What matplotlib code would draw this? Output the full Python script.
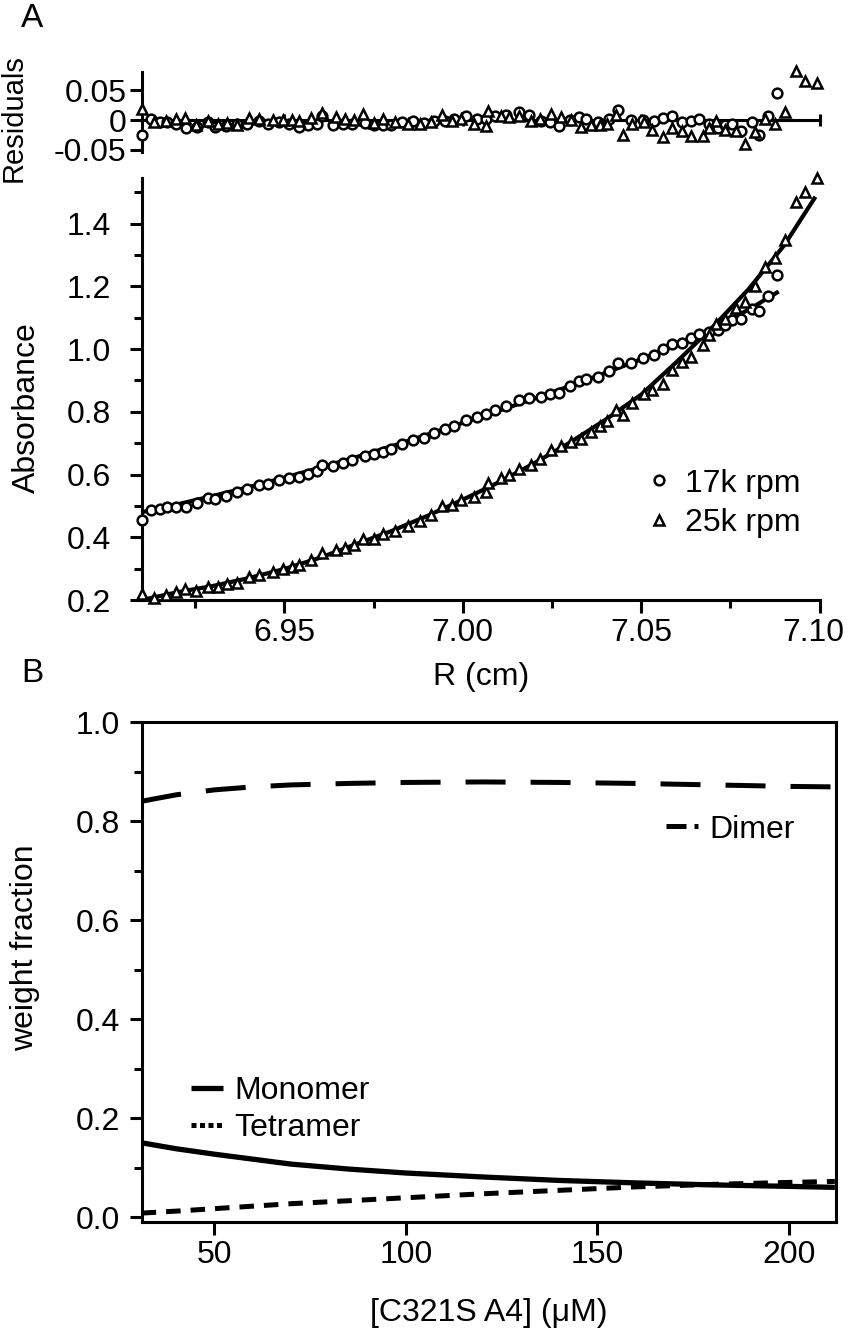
import matplotlib
matplotlib.use('Agg')
import matplotlib.pyplot as plt
import matplotlib.transforms as mtransforms
from matplotlib.lines import Line2D
from matplotlib.ticker import MultipleLocator, FixedLocator

plt.rcParams['font.family'] = ['Liberation Sans', 'DejaVu Sans']

# ---- panel A: 17k rpm (circles) ----
r_17k = [6.9102, 6.9125, 6.9150, 6.9170, 6.9195, 6.9225, 6.9255, 6.9285, 6.9305, 6.9335,
         6.9368, 6.9395, 6.9428, 6.9455, 6.9485, 6.9512, 6.9540, 6.9565, 6.9590, 6.9606,
         6.9635, 6.9663, 6.9690, 6.9726, 6.9750, 6.9775, 6.9800, 6.9830, 6.9860, 6.9890,
         6.9920, 6.9950, 6.9975, 7.0010, 7.0040, 7.0065, 7.0090, 7.0120, 7.0158, 7.0185,
         7.0218, 7.0245, 7.0270, 7.0300, 7.0325, 7.0346, 7.0380, 7.0410, 7.0434, 7.0470,
         7.0505, 7.0535, 7.0560, 7.0587, 7.0615, 7.0640, 7.0663, 7.0690, 7.0715, 7.0735,
         7.0754, 7.0780, 7.0810, 7.0830, 7.0854, 7.0879]
abs_17k = [0.455, 0.487, 0.490, 0.495, 0.497, 0.498, 0.508, 0.525, 0.522, 0.532,
           0.545, 0.553, 0.566, 0.570, 0.582, 0.588, 0.592, 0.603, 0.612, 0.630,
           0.626, 0.637, 0.645, 0.659, 0.664, 0.672, 0.682, 0.697, 0.710, 0.718,
           0.734, 0.744, 0.756, 0.775, 0.782, 0.792, 0.805, 0.820, 0.839, 0.845,
           0.847, 0.857, 0.860, 0.882, 0.898, 0.903, 0.912, 0.930, 0.956, 0.955,
           0.970, 0.982, 0.999, 1.015, 1.020, 1.035, 1.049, 1.055, 1.062, 1.078,
           1.092, 1.095, 1.129, 1.120, 1.168, 1.235]
res_17k = [-0.026, 0.001, -0.003, -0.003, -0.007, -0.014, -0.012, -0.003, -0.011, -0.010,
           -0.006, -0.006, -0.002, -0.007, -0.004, -0.006, -0.011, -0.008, -0.007, 0.006,
           -0.008, -0.006, -0.007, -0.005, -0.009, -0.009, -0.008, -0.004, -0.002, -0.005,
           -0.001, -0.002, 0.001, 0.006, 0.002, 0.002, 0.006, 0.009, 0.013, 0.009,
           -0.002, -0.003, -0.010, 0.000, 0.005, 0.002, -0.004, 0.002, 0.017, 0.000,
           0.000, -0.002, 0.003, 0.006, -0.003, -0.001, 0.001, -0.007, -0.014, -0.009,
           -0.006, -0.018, -0.003, -0.026, 0.006, 0.045]
r_fit_17k = [6.910, 6.920, 6.930, 6.940, 6.950, 6.960, 6.970, 6.980, 6.990, 7.000,
             7.010, 7.020, 7.030, 7.040, 7.050, 7.060, 7.070, 7.080, 7.088]
fit_17k = [0.480, 0.505, 0.532, 0.560, 0.590, 0.622, 0.655, 0.690, 0.727, 0.765,
           0.803, 0.842, 0.882, 0.924, 0.968, 1.015, 1.067, 1.125, 1.180]

# ---- panel A: 25k rpm (triangles) ----
r_25k = [6.9102, 6.9135, 6.9167, 6.9195, 6.9220, 6.9253, 6.9285, 6.9315, 6.9340, 6.9368,
         6.9400, 6.9430, 6.9468, 6.9495, 6.9520, 6.9541, 6.9575, 6.9606, 6.9644, 6.9670,
         6.9695, 6.9719, 6.9750, 6.9776, 6.9810, 6.9845, 6.9880, 6.9910, 6.9942, 6.9970,
         6.9995, 7.0030, 7.0064, 7.0070, 7.0108, 7.0130, 7.0158, 7.0190, 7.0215, 7.0246,
         7.0275, 7.0302, 7.0330, 7.0359, 7.0385, 7.0405, 7.0428, 7.0450, 7.0475, 7.0507,
         7.0530, 7.0560, 7.0587, 7.0615, 7.0640, 7.0672, 7.0690, 7.0710, 7.0735, 7.0765,
         7.0791, 7.0820, 7.0848, 7.0875, 7.0904, 7.0933, 7.0960, 7.0992]
abs_25k = [0.218, 0.206, 0.216, 0.226, 0.234, 0.229, 0.240, 0.242, 0.250, 0.253,
           0.274, 0.280, 0.290, 0.298, 0.305, 0.311, 0.327, 0.349, 0.359, 0.366,
           0.376, 0.396, 0.394, 0.412, 0.421, 0.436, 0.452, 0.470, 0.499, 0.503,
           0.518, 0.530, 0.545, 0.574, 0.588, 0.600, 0.619, 0.630, 0.648, 0.678,
           0.690, 0.704, 0.712, 0.736, 0.755, 0.772, 0.805, 0.790, 0.828, 0.858,
           0.870, 0.890, 0.932, 0.958, 0.975, 1.012, 1.045, 1.081, 1.095, 1.130,
           1.150, 1.200, 1.261, 1.290, 1.349, 1.468, 1.500, 1.546]
res_25k = [0.018, -0.003, -0.001, 0.002, 0.004, -0.009, -0.001, -0.007, -0.005, -0.009,
           0.004, 0.001, 0.000, 0.000, 0.000, -0.001, 0.004, 0.012, 0.005, 0.001,
           0.000, 0.010, -0.005, 0.001, -0.004, -0.006, -0.006, -0.003, 0.009, -0.001,
           0.001, -0.007, -0.010, 0.016, 0.006, 0.005, 0.007, -0.002, 0.002, 0.011,
           0.005, 0.000, -0.012, -0.009, -0.009, -0.007, 0.008, -0.025, -0.007, -0.004,
           -0.017, -0.028, -0.014, -0.018, -0.027, -0.027, -0.014, -0.001, -0.017, -0.018,
           -0.040, -0.021, 0.002, -0.006, 0.013, 0.082, 0.066, 0.063]
r_fit_25k = [6.910, 6.920, 6.930, 6.940, 6.950, 6.960, 6.970, 6.980, 6.990, 7.000,
             7.010, 7.020, 7.030, 7.040, 7.050, 7.060, 7.070, 7.080, 7.090, 7.0985]
fit_25k = [0.200, 0.225, 0.245, 0.270, 0.299, 0.335, 0.378, 0.420, 0.468, 0.520,
           0.575, 0.636, 0.702, 0.775, 0.855, 0.960, 1.070, 1.190, 1.330, 1.480]

# ---- panel B: weight fractions ----
conc = [31, 40, 50, 60, 70, 85, 100, 120, 140, 160, 180, 200, 212]
monomer = [0.150, 0.138, 0.127, 0.117, 0.107, 0.097, 0.089, 0.081, 0.074, 0.069, 0.065, 0.062, 0.060]
dimer = [0.840, 0.853, 0.863, 0.869, 0.873, 0.876, 0.878, 0.879, 0.878, 0.876, 0.873, 0.870, 0.869]
tetramer = [0.008, 0.012, 0.017, 0.022, 0.027, 0.033, 0.039, 0.047, 0.054, 0.061, 0.066, 0.070, 0.072]

FS = 23
LW = 2.2
mk = dict(linestyle='none', markerfacecolor='white', markeredgecolor='black', markeredgewidth=1.8)

fig = plt.figure(figsize=(8.49, 13.29), dpi=100)
ax_r = fig.add_axes([0.1669, 0.8856, 0.7986, 0.0602])
ax_a = fig.add_axes([0.1669, 0.5485, 0.7986, 0.3175])
ax_b = fig.add_axes([0.1673, 0.0805, 0.8174, 0.3762])


def style(ax, ypad):
    for s in ax.spines.values():
        s.set_linewidth(LW)
    ax.tick_params(which='major', direction='out', length=9, width=LW, labelsize=FS)
    ax.tick_params(which='minor', direction='out', length=5.5, width=LW)
    ax.tick_params(axis='x', pad=4)
    ax.tick_params(axis='y', pad=ypad)


# residuals
style(ax_r, 2)
ax_r.plot(r_17k, res_17k, marker='o', markersize=7, zorder=3, clip_on=False, **mk)
ax_r.plot(r_25k, res_25k, marker='^', markersize=6.5, zorder=3, clip_on=False, **mk)
ax_r.spines['top'].set_visible(False)
ax_r.spines['right'].set_visible(False)
ax_r.spines['bottom'].set_position(('data', 0))
ax_r.set_xlim(6.91, 7.10)
ax_r.set_ylim(-0.054, 0.081)
ax_r.xaxis.set_major_locator(FixedLocator([6.95, 7.00, 7.05, 7.10]))
ax_r.tick_params(axis='x', labelbottom=False, direction='inout', length=9)
ax_r.set_yticks([-0.05, 0, 0.05])
ax_r.set_yticklabels(['-0.05', '0', '0.05'])
ax_r.set_ylabel('Residuals', fontsize=FS - 2)
ax_r.yaxis.set_label_coords(-0.168, 0.42)

# absorbance
style(ax_a, 13)
ax_a.plot(r_fit_17k, fit_17k, color='black', lw=3, zorder=2)
ax_a.plot(r_fit_25k, fit_25k, color='black', lw=3, zorder=2)
ax_a.plot(r_17k, abs_17k, marker='o', markersize=7, zorder=3, clip_on=False, label='17k rpm', **mk)
ax_a.plot(r_25k, abs_25k, marker='^', markersize=6.5, zorder=3, clip_on=False, label='25k rpm', **mk)
ax_a.spines['top'].set_visible(False)
ax_a.spines['right'].set_visible(False)
ax_a.set_xlim(6.91, 7.10)
ax_a.set_ylim(0.2, 1.545)
ax_a.xaxis.set_major_locator(FixedLocator([6.95, 7.00, 7.05, 7.10]))
ax_a.xaxis.set_minor_locator(FixedLocator([6.925, 6.975, 7.025, 7.075]))
ax_a.set_xticklabels(['6.95', '7.00', '7.05', '7.10'])
# keep the last label inside the canvas
last = ax_a.get_xticklabels()[-1]
last.set_transform(last.get_transform() + mtransforms.ScaledTranslation(-6 / 100, 0, fig.dpi_scale_trans))
ax_a.yaxis.set_major_locator(MultipleLocator(0.2))
ax_a.yaxis.set_minor_locator(MultipleLocator(0.1))
ax_a.yaxis.set_major_formatter(plt.FormatStrFormatter('%.1f'))
ax_a.set_xlabel('R (cm)', fontsize=FS, labelpad=10)
ax_a.set_ylabel('Absorbance', fontsize=FS)
ax_a.yaxis.set_label_coords(-0.147, 0.455)
ax_a.legend(loc='upper left', bbox_to_anchor=(0.765, 0.6474), bbox_transform=fig.transFigure,
            frameon=False, fontsize=FS, handlelength=0.6, handletextpad=0.5,
            labelspacing=0.3, borderpad=0, borderaxespad=0)

# weight fractions
style(ax_b, 7)
ax_b.plot(conc, monomer, color='black', lw=3.8, solid_capstyle='butt')
ax_b.plot(conc, dimer, color='black', lw=3.6, linestyle=(0, (8, 5)), dash_capstyle='butt')
ax_b.plot(conc, tetramer, color='black', lw=3.6, linestyle=(0, (2.9, 2.0)), dash_capstyle='butt')
ax_b.set_xlim(31.1, 212.3)
ax_b.set_ylim(-0.01, 1.0)
ax_b.xaxis.set_major_locator(FixedLocator([50, 100, 150, 200]))
ax_b.yaxis.set_major_locator(MultipleLocator(0.2))
ax_b.yaxis.set_minor_locator(MultipleLocator(0.1))
ax_b.yaxis.set_major_formatter(plt.FormatStrFormatter('%.1f'))
ax_b.tick_params(top=False, right=False, which='both')
ax_b.set_xlabel('[C321S A4] (\u03bcM)', fontsize=FS, labelpad=20)
ax_b.set_ylabel('weight fraction', fontsize=FS)
ax_b.yaxis.set_label_coords(-0.147, 0.548)

h_dim = Line2D([], [], color='black', lw=3.6, linestyle=(0, (4, 1.6, 1.2, 1.6)))
leg1 = ax_b.legend([h_dim], ['Dimer'], loc='upper left', bbox_to_anchor=(0.785, 0.387),
                   bbox_transform=fig.transFigure, frameon=False, fontsize=FS,
                   handlelength=1.0, handletextpad=0.35, borderpad=0, borderaxespad=0)
ax_b.add_artist(leg1)
h_mon = Line2D([], [], color='black', lw=3.8, solid_capstyle='butt')
h_tet = Line2D([], [], color='black', lw=3.6, linestyle=(0, (1.0, 0.7)))
ax_b.legend([h_mon, h_tet], ['Monomer', 'Tetramer'], loc='upper left',
            bbox_to_anchor=(0.225, 0.190), bbox_transform=fig.transFigure, frameon=False,
            fontsize=FS, handlelength=1.0, handletextpad=0.35, labelspacing=0.2,
            borderpad=0, borderaxespad=0)

fig.text(0.025, 0.998, 'A', fontsize=FS + 1, va='top', ha='left')
fig.text(0.025, 0.505, 'B', fontsize=FS + 1, va='top', ha='left')

fig.savefig('out.png', dpi=100)
